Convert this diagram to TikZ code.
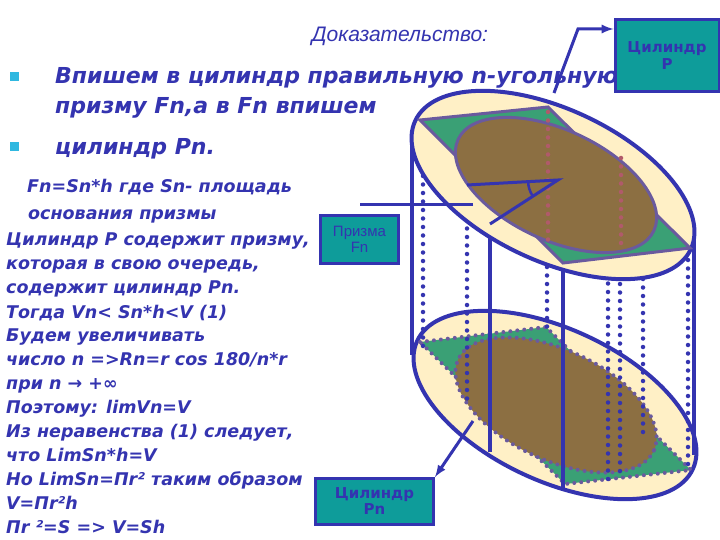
\documentclass[tikz,border=0pt]{standalone}
\usepackage{fontspec}
\setmainfont{DejaVu Sans}
\newfontfamily\arialf{Liberation Sans}
\begin{document}
\begin{tikzpicture}[x=1pt,y=-1pt,
  txt/.style={text=tblue,font=\bfseries\itshape\fontsize{17.5}{18}\selectfont,anchor=base west,inner sep=0},
  big/.style={text=tblue,font=\bfseries\itshape\fontsize{22}{24}\selectfont,anchor=base west,inner sep=0},
  lbl/.style={draw=tblue,line width=3pt,fill=teal2,text=tblue,font=\fontsize{14}{16}\selectfont,align=center,inner sep=0},
  cyl/.style={draw=tblue,line width=4pt},
  edge/.style={draw=pedge,line width=3pt},
  bdot/.style={tblue,line width=4.5pt,line cap=round,dash pattern=on 0pt off 8.5pt},
  rdot/.style={rdc,line width=4.5pt,line cap=round,dash pattern=on 0pt off 8.5pt},
  pdot/.style={pedge,line width=4pt,line cap=round,dash pattern=on 0pt off 7pt}]
\definecolor{tblue}{HTML}{3434B0}
\definecolor{teal2}{HTML}{0E9C9A}
\definecolor{cream}{HTML}{FFF0C6}
\definecolor{grn}{HTML}{3AA075}
\definecolor{brn}{HTML}{8C6F42}
\definecolor{pedge}{HTML}{6A5A9E}
\definecolor{rdc}{HTML}{B05A6A}
\definecolor{bul}{HTML}{30B8E0}
\useasboundingbox (0,0) rectangle (720,540);
\fill[white] (0,0) rectangle (720,540);
% ---- texts
\node[text=tblue,font=\arialf\itshape\fontsize{21}{22}\selectfont,anchor=base] (title) at (400,42) {Доказательство:};
\fill[bul] (10,72) rectangle (19,81);
\fill[bul] (10,142) rectangle (19,151);
\node[big] (b1) at (55,84) {Впишем в цилиндр правильную n-угольную};
\node[big] (b2) at (55,114) {призму Fn,а в Fn впишем};
\node[big] (b3) at (55,155) {цилиндр Pn.};
\node[txt] (t1) at (27,193) {Fn=Sn*h  где Sn- площадь};
\node[txt] (t2) at (28,219) {основания призмы};
\node[txt] (t3) at (6,245) {Цилиндр Р содержит призму,};
\node[txt] (t4) at (6,269) {которая в свою очередь,};
\node[txt] (t5) at (6,293) {содержит цилиндр Pn.};
\node[txt] (t6) at (6,318) {Тогда Vn< Sn*h<V (1)};
\node[txt] (t7) at (6,341) {Будем увеличивать};
\node[txt] (t8) at (6,365) {число n =>Rn=r cos 180/n*r};
\node[txt] (t9) at (6,389) {при n → +∞};
\node[txt] (t10) at (6,413) {Поэтому: limVn=V};
\node[txt] (t11) at (6,437) {Из неравенства (1) следует,};
\node[txt] (t12) at (6,461) {что LimSn*h=V};
\node[txt] (t13) at (6,485) {Но LimSn=Пr² таким образом};
\node[txt] (t14) at (6,509) {V=Пr²h};
\node[txt] (t15) at (6,533) {Пr ²=S => V=Sh};
% ---- bottom base
\filldraw[cyl,fill=cream,rotate around={-25:(555,405)}] (555,405) ellipse [x radius=152,y radius=76];
\fill[grn] (420,342) -- (546,327) -- (691,470) -- (565,484) -- cycle;
\draw[pdot] (420,342) -- (546,327) -- (691,470) -- (565,484) -- cycle;
\fill[brn,rotate around={-25:(556,405)}] (556,405) ellipse [x radius=108,y radius=55];
\draw[pdot,rotate around={-25:(556,405)}] (556,405) ellipse [x radius=108,y radius=55];
% ---- verticals
\draw[cyl] (412,140) -- (412,355);
\draw[cyl] (694,232) -- (694,455);
\draw[cyl] (490,228) -- (490,452);
\draw[cyl] (563,263) -- (563,490);
\foreach \x/\a/\b in {423/125/347, 467/186/405, 547/250/330, 608/258/480, 620/250/478, 643/245/440, 688/260/470}
  \draw[bdot] (\x,\a) -- (\x,\b);
% ---- top base
\filldraw[cyl,fill=cream,rotate around={-25:(553,185)}] (553,185) ellipse [x radius=152,y radius=76];
\filldraw[edge,fill=grn] (420,120) -- (548,107) -- (690,248) -- (563,263) -- cycle;
\filldraw[edge,fill=brn,rotate around={-25:(556,185)}] (556,185) ellipse [x radius=108,y radius=55];
\draw[rdot] (548,112) -- (548,246);
\draw[rdot] (621,158) -- (621,250);
\coordinate (C) at (558,180);
\coordinate (R1) at (467,185);
\coordinate (R2) at (490,224);
\draw[tblue,line width=3pt] (R1) -- (C) -- (R2);
\draw[tblue,line width=2.5pt] (C) ++(148:30) arc[start angle=148,end angle=177,radius=30];
% ---- labels
\node[lbl,minimum width=104pt,minimum height=72pt,font=\bfseries\fontsize{15}{17}\selectfont] (cp) at (667,56) {Цилиндр\\Р};
\node[lbl,minimum width=78pt,minimum height=48pt,anchor=north west,font=\arialf\fontsize{15}{16}\selectfont] (pf) at (319,214) {Призма\\Fn};
\node[lbl,minimum width=118pt,minimum height=46pt,anchor=north west,font=\bfseries\fontsize{15}{16}\selectfont] (cpn) at (314,477) {Цилиндр\\Pn};
\coordinate (a1) at (554,93);
\coordinate (a1b) at (578,29);
\draw[tblue,line width=3pt,-latex] (a1) -- (a1b) -- (cp.west |- a1b);
\coordinate (a2) at (473,205);
\draw[tblue,line width=3pt] (a2) -- (360,205);
\coordinate (a3) at (473,421);
\draw[tblue,line width=3pt,-latex] (a3) -- (cpn.north east);
\end{tikzpicture}
\end{document}
